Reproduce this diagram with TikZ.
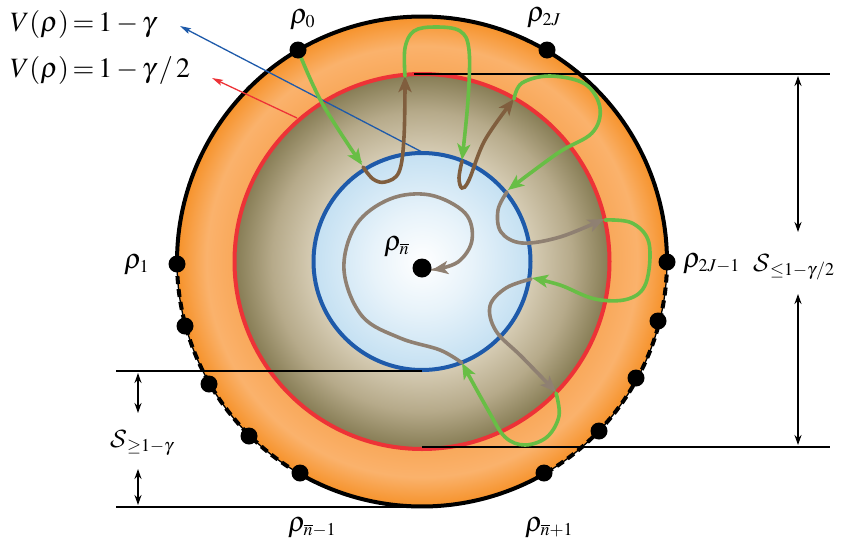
\documentclass[tikz,border=0pt]{standalone}
\usepackage{mathptmx}
\usetikzlibrary{arrows.meta}
\DeclareMathAlphabet{\mathcmcal}{OMS}{cmsy}{m}{n}
\DeclareMathSizes{28}{28}{18}{13}
\newcommand{\bigS}{\mbox{\fontsize{32}{34}\selectfont$\mathcmcal{S}$}}
\definecolor{cgreen}{RGB}{104,190,69}
\definecolor{cbrown}{RGB}{128,94,62}
\definecolor{cgray}{RGB}{143,128,114}
\definecolor{cred}{RGB}{237,50,55}
\definecolor{cblue}{RGB}{30,90,170}
\definecolor{bmid}{RGB}{232,243,250}
\definecolor{bedge}{RGB}{196,224,242}
\definecolor{beige}{RGB}{214,204,180}
\definecolor{olmid}{RGB}{182,170,138}
\definecolor{olive}{RGB}{134,124,84}
\definecolor{orin}{RGB}{249,168,90}
\definecolor{ormid}{RGB}{250,178,108}
\definecolor{orout}{RGB}{246,146,42}
\pgfdeclareradialshading{diskshade}{\pgfpoint{0bp}{0bp}}{%
 color(0bp)=(white);
 color(5bp)=(bmid);
 color(11.07bp)=(bedge);
 color(11.09bp)=(beige);
 color(15.3bp)=(olmid);
 color(19.13bp)=(olive);
 color(19.15bp)=(orin);
 color(22bp)=(ormid);
 color(25bp)=(orout);
 color(50bp)=(orout)}
\newcommand{\tightmath}{\thickmuskip=2.5mu\medmuskip=2.5mu}
\tikzset{
 dot/.style={circle, fill=black, inner sep=0pt, minimum size=17pt},
 cdot/.style={circle, fill=black, inner sep=0pt, minimum size=19pt},
 lbl/.style={inner sep=0pt, anchor=base west, font=\fontsize{28}{32}\selectfont\tightmath},
 hline/.style={line width=2pt, black},
 varrow/.style={line width=1.8pt, {Stealth[length=10pt,width=7pt]}-{Stealth[length=10pt,width=7pt]}},
 garrow/.style={line width=3.6pt, cgreen, line cap=round, -{Stealth[length=16pt,width=13pt,inset=4pt]}},
 brarrow/.style={line width=3.6pt, cbrown, line cap=round, -{Stealth[length=16pt,width=13pt,inset=4pt]}},
 grarrow/.style={line width=3.6pt, cgray, line cap=round, -{Stealth[length=16pt,width=13pt,inset=4pt]}},
 thinarrow/.style={line width=1.3pt, -{Stealth[length=11pt,width=6pt,inset=2pt]}},
}
\begin{document}
\begin{tikzpicture}[x=1pt,y=-1pt]
\useasboundingbox (0,0) rectangle (841,552);
\coordinate (C) at (422,261.5);
% shaded disk
\shade[shading=diskshade] (C) circle[radius=245];
% circles
\draw[cred, line width=4pt] (C) circle[radius=187.5];
\draw[cblue, line width=4pt] (C) circle[radius=108.5];
% outer boundary
\draw[line width=4pt] plot[domain=180:360, samples=120] ({422+245*cos(\x)},{261.5+245*sin(\x)});
\draw[line width=4pt] plot[domain=60:120, samples=60] ({422+245*cos(\x)},{261.5+245*sin(\x)});
\draw[line width=1.3pt] plot[domain=0:60, samples=60] ({422+245*cos(\x)},{261.5+245*sin(\x)});
\draw[line width=1.3pt] plot[domain=120:180, samples=60] ({422+245*cos(\x)},{261.5+245*sin(\x)});
\draw[line width=4pt, dash pattern=on 8pt off 5pt] plot[domain=0:60, samples=60] ({422+245*cos(\x)},{261.5+245*sin(\x)});
\draw[line width=4pt, dash pattern=on 8pt off 5pt] plot[domain=120:180, samples=60] ({422+245*cos(\x)},{261.5+245*sin(\x)});
% horizontal lines
\coordinate (h1a) at (414,74);  \coordinate (h1b) at (830,74);
\coordinate (h2a) at (422,447); \coordinate (h2b) at (830,447);
\coordinate (h3a) at (116,371); \coordinate (h3b) at (422,371);
\coordinate (h4a) at (116,507); \coordinate (h4b) at (422,507);
\draw[hline] (h1a) -- (h1b);
\draw[hline] (h2a) -- (h2b);
\draw[hline] (h3a) -- (h3b);
\draw[hline] (h4a) -- (h4b);
% vertical double arrows
\coordinate (v1a) at (798,76);  \coordinate (v1b) at (798,232);
\coordinate (v2a) at (798,294); \coordinate (v2b) at (798,445);
\coordinate (v3a) at (138,373); \coordinate (v3b) at (138,413);
\coordinate (v4a) at (138,469); \coordinate (v4b) at (138,505);
\draw[varrow] (v1a) -- (v1b);
\draw[varrow] (v2a) -- (v2b);
\draw[varrow] (v3a) -- (v3b);
\draw[varrow] (v4a) -- (v4b);
% thin arrows to the formulas
\coordinate (bt) at (422,152); \coordinate (bh) at (180,26);
\coordinate (rt) at (297,118); \coordinate (rh) at (212,78);
\draw[thinarrow, cblue] (bt) -- (bh);
\draw[thinarrow, cred] (rt) -- (rh);
% trajectories
\draw[garrow] plot[smooth, tension=0.6] coordinates {(298,50) (322,103) (362,165)};
\draw[brarrow] plot[smooth, tension=0.6] coordinates {(363,167) (373,179) (385,182) (399,172) (404,137) (405,76)};
\draw[garrow] plot[smooth, tension=0.6] coordinates {(405,76) (405,48) (414,31) (435,27) (460,31) (469,50) (468,100) (462,160)};
\draw[brarrow] plot[smooth, tension=0.6] coordinates {(462,161) (459,178) (462,188) (469,180) (485,140) (514,99)};
\draw[garrow] plot[smooth, tension=0.6] coordinates {(514,99) (522,83) (550,76) (585,84) (600,108) (592,133) (558,153) (508,190)};
\draw[grarrow] plot[smooth, tension=0.6] coordinates {(507,192) (498,210) (501,232) (522,243) (560,237) (604,219)};
\draw[garrow] plot[smooth, tension=0.6] coordinates {(605,220) (632,223) (649,243) (646,283) (628,299) (595,299) (560,285) (532,278)};
\draw[grarrow] plot[smooth, tension=0.6] coordinates {(531,279) (506,288) (490,306) (496,331) (522,357) (556,392)};
\draw[garrow] plot[smooth, tension=0.6] coordinates {(556,393) (559,416) (547,437) (525,445) (505,437) (488,410) (462,363)};
\draw[grarrow] plot[smooth, tension=0.6] coordinates {(462,363) (440,350) (400,338) (362,316) (344,270) (356,225) (390,199) (430,195) (465,213) (472,240) (458,262) (432,270)};
% dots
\node[dot] (p0) at (298,50) {};
\node[dot] (p2J) at (547,50) {};
\node[dot] (p1) at (177,264) {};
\node[dot] (l2) at (185,326) {};
\node[dot] (l3) at (209,384) {};
\node[dot] (l4) at (249,436) {};
\node[dot] (pnm) at (300,473) {};
\node[dot] (p2Jm) at (667,262) {};
\node[dot] (r2) at (658,321) {};
\node[dot] (r3) at (636,378) {};
\node[dot] (r4) at (599,431) {};
\node[dot] (pnp) at (544,473) {};
\node[cdot] (pn) at (422,268) {};
% labels
\node[lbl] (f1) at (10,31) {$V(\rho)=1-\gamma$};
\node[lbl] (f2) at (10,77) {$V(\rho)=1-\gamma\,/\,2$};
\node[lbl] (t0) at (290,23) {$\rho_0$};
\node[lbl] (t2J) at (527,21) {$\rho_{2J}$};
\node[lbl] (t1) at (124,268) {$\rho_1$};
\node[lbl] (t2Jm) at (683,267) {$\rho_{2J-1}$};
\node[lbl] (tS1) at (753,271) {$\bigS_{\le 1-\gamma/2}$};
\node[lbl] (tn) at (384,250) {$\rho_{\overline{n}}$};
\node[lbl] (tnm) at (288,531) {$\rho_{\overline{n}-1}$};
\node[lbl] (tnp) at (525,531) {$\rho_{\overline{n}+1}$};
\node[lbl] (tS2) at (110,447) {$\bigS_{\ge 1-\gamma}$};
\end{tikzpicture}
\end{document}
